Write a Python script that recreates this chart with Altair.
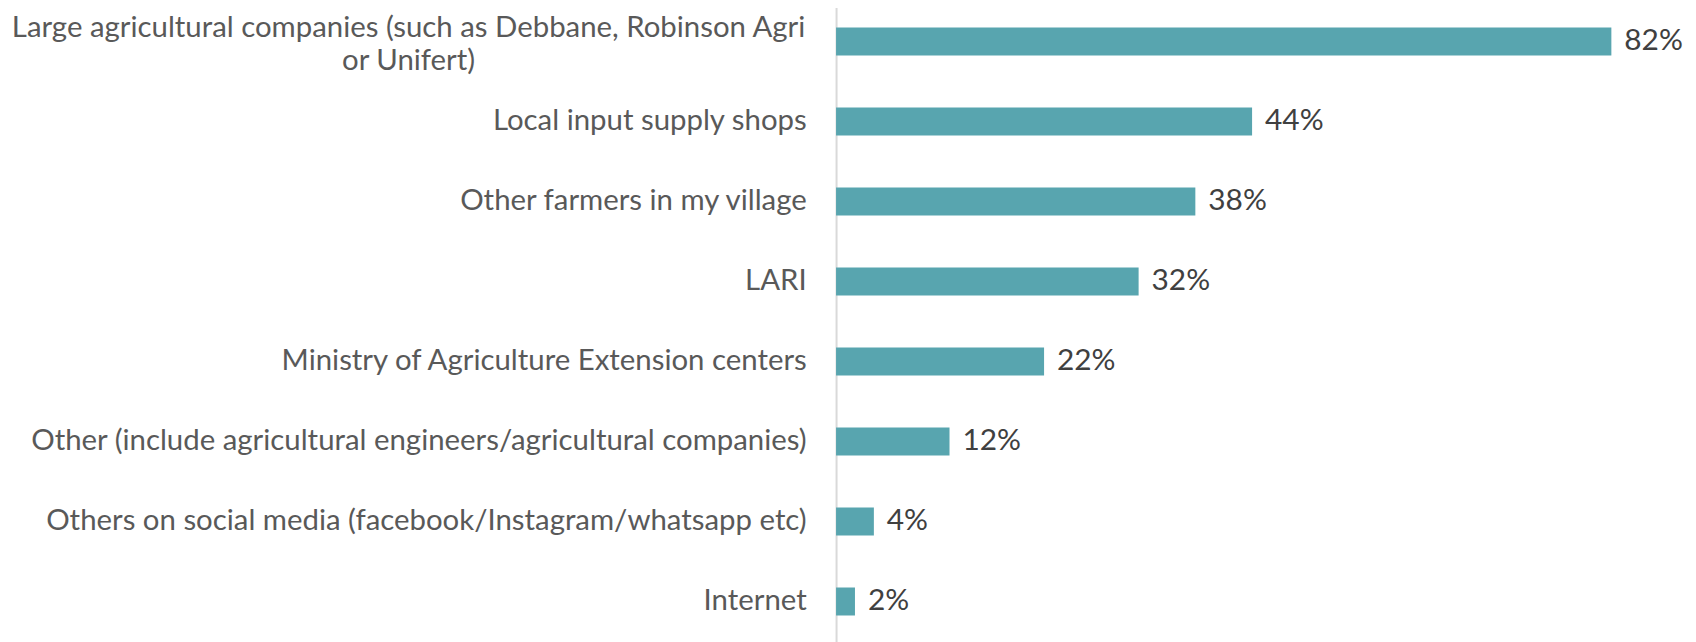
import altair as alt
import pandas as pd

categories = [
    "Large agricultural companies (such as Debbane, Robinson Agri or Unifert)",
    "Local input supply shops",
    "Other farmers in my village",
    "LARI",
    "Ministry of Agriculture Extension centers",
    "Other (include agricultural engineers/agricultural companies)",
    "Others on social media (facebook/Instagram/whatsapp etc)",
    "Internet",
]
values = [82, 44, 38, 32, 22, 12, 4, 2]
value_labels = ["82%", "44%", "38%", "32%", "22%", "12%", "4%", "2%"]
first_label_lines = ["Large agricultural companies (such as Debbane, Robinson Agri", "or Unifert)"]

df = pd.DataFrame({"category": categories, "value": values, "label": value_labels})

FONT = "Lato"
LABEL_SIZE = 29.5
first = categories[0]

yscale = alt.Scale(paddingInner=0.65, paddingOuter=0.325)
xenc = alt.X("value:Q", scale=alt.Scale(domain=[0, 88]), axis=None)

bars = alt.Chart(df).mark_bar(color="#58A5AF").encode(
    x=xenc,
    y=alt.Y(
        "category:N",
        sort=categories,
        scale=yscale,
        axis=alt.Axis(
            title=None,
            orient="left",
            labelExpr=f"datum.value == '{first}' ? '' : datum.label",
            labelFont=FONT,
            labelFontSize=LABEL_SIZE,
            labelColor="#595959",
            labelPadding=30,
            labelLimit=2000,
            ticks=False,
            tickSize=0,
            domainColor="#D9D9D9",
            domainWidth=2,
            grid=False,
        ),
    ),
)

texts = alt.Chart(df).mark_text(
    align="left", baseline="middle", dx=13, font=FONT, fontSize=30, color="#404040"
).encode(
    x=xenc,
    y=alt.Y(
        "category:N",
        sort=categories,
        scale=yscale,
        axis=alt.Axis(
            title=None,
            orient="left",
            labelExpr=f"datum.value == '{first}' ? ['{first_label_lines[0]}', '{first_label_lines[1]}'] : ''",
            labelFont=FONT,
            labelFontSize=LABEL_SIZE,
            labelColor="#595959",
            labelAlign="center",
            labelPadding=430,
            labelLineHeight=34,
            labelOffset=-14,
            labelLimit=2000,
            ticks=False,
            tickSize=0,
            domain=False,
            grid=False,
        ),
    ),
    text="label:N",
)

chart = (
    alt.layer(bars, texts)
    .resolve_axis(y="independent")
    .properties(
        width=836,
        height=643,
        autosize=alt.AutoSizeParams(type="none"),
        padding={"left": 832, "top": -8, "right": 20, "bottom": 0},
    )
    .configure_view(stroke=None)
)

chart.save("out.html", embed_options={"renderer": "svg", "actions": False})
